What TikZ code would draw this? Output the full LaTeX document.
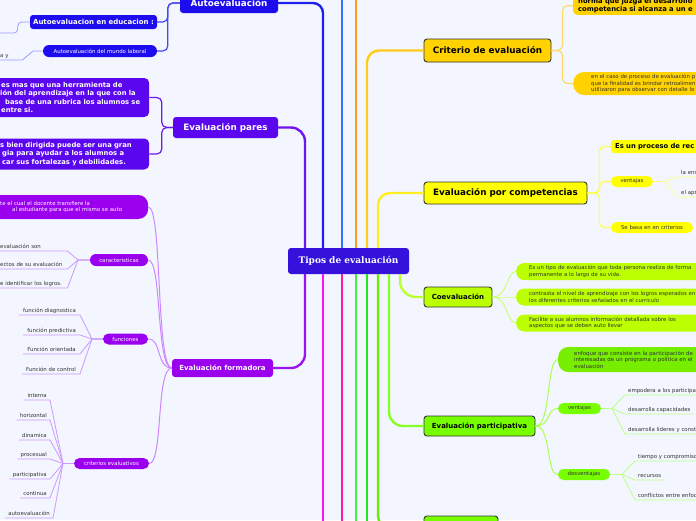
\documentclass[tikz,border=0pt]{standalone}
\usepackage{fontspec}
\setmainfont{DejaVu Sans}
\newfontfamily\mmserif{DejaVu Serif}
\newcommand\mmRoot{\mmserif\bfseries\fontsize{9}{10.5}\selectfont}
\newcommand\mmBig{\bfseries\fontsize{8.8}{10}\selectfont}
\newcommand\mmCrit{\bfseries\fontsize{8.8}{10}\selectfont}
\newcommand\mmMid{\bfseries\fontsize{7}{8.5}\selectfont}
\newcommand\mmPar{\bfseries\fontsize{6.8}{8.5}\selectfont}
\newcommand\mmSmall{\fontsize{5.4}{6.7}\selectfont}
\definecolor{bgc}{HTML}{F3F6FE}
\definecolor{rootc}{HTML}{3412DC}
\definecolor{autoc}{HTML}{1C0CEE}
\definecolor{paresc}{HTML}{5A06EE}
\definecolor{formc}{HTML}{9A00EE}
\definecolor{critc}{HTML}{FFD200}
\definecolor{compc}{HTML}{FFFF00}
\definecolor{coevc}{HTML}{BBFF00}
\definecolor{partc}{HTML}{77FF00}
\definecolor{ptonec}{HTML}{77EE00}
\definecolor{leafc}{HTML}{333333}
\definecolor{la}{HTML}{6E14EE}
\definecolor{lb}{HTML}{1E1EEE}
\definecolor{lc}{HTML}{2F74FF}
\definecolor{ld}{HTML}{FF9A1F}
\definecolor{le}{HTML}{FFCC1A}
\definecolor{lf}{HTML}{FFEE22}
\definecolor{lg}{HTML}{9A14EE}
\definecolor{lh}{HTML}{FF11FF}
\definecolor{li}{HTML}{FF1AA6}
\definecolor{lj}{HTML}{44EE44}
\definecolor{lk}{HTML}{22E622}
\definecolor{ll}{HTML}{66F000}
\definecolor{lm}{HTML}{88FF22}
\definecolor{ln}{HTML}{BBFF33}
\definecolor{autoln}{HTML}{4848F0}
\definecolor{autoleaf}{HTML}{9A9AFF}
\definecolor{paresln}{HTML}{6A1AEE}
\definecolor{formln}{HTML}{CC88FF}
\definecolor{formleaf}{HTML}{CC99FF}
\definecolor{critln}{HTML}{FFD966}
\definecolor{compln}{HTML}{FFFF55}
\definecolor{compleaf}{HTML}{FFFF88}
\definecolor{coevln}{HTML}{CCFF77}
\definecolor{partln}{HTML}{AAFF55}
\definecolor{partleaf}{HTML}{BBFF88}
\begin{document}
\begin{tikzpicture}[x=1pt,y=-1pt,
  cl/.style={line width=2.4pt},
  sl/.style={line width=1.2pt},
  tl/.style={line width=0.8pt},
  boxl/.style={rounded corners=3pt, inner sep=0pt, text=white, align=center},
  boxr/.style={draw=black!80, line width=0.9pt, rounded corners=3pt, inner sep=0pt, text=black, align=center},
  pill/.style={rounded corners=5.5pt, inner sep=0pt, font=\mmSmall},
  leaf/.style={font=\mmSmall, text=leafc, inner xsep=3pt, inner ysep=1pt, text height=4.2pt, text depth=1.2pt},
  rleaf/.style={leaf, text width=100pt, align=left},
  cutbox/.style={inner ysep=1.5pt, text width=200pt, align=left},
]
\fill[bgc] (0,0) rectangle (696,520);
\useasboundingbox (0,0) rectangle (696,520);
\clip (0,0) rectangle (696,520);

% ---------- nodes ----------
\node[boxl, fill=rootc, font=\mmRoot, minimum width=121pt, minimum height=26pt] (root) at (348.5,261) {Tipos de evaluación};

% left: autoevaluacion
\node[boxl, fill=autoc, font=\mmBig, minimum width=98pt, minimum height=20pt] (auto) at (229,3) {Autoevaluación};
\node[boxl, fill=autoc, font=\mmMid, minimum width=127pt, minimum height=14pt] (autoedu) at (93.5,22) {Autoevaluacion en educacion :};
\node[pill, fill=autoc, text=white, minimum width=114pt, minimum height=12pt, rounded corners=6pt] (autolab) at (100,51) {Autoevaluación del mundo laboral};
\node[leaf, anchor=south west, text width=17pt, align=left, inner xsep=5pt] (ay) at (-5,60) {a y\\[4pt]\mbox{}};
\coordinate (ae0) at (-3,33);
\coordinate (ayj) at (33,51);

% left: pares
\node[boxl, fill=paresc, font=\mmBig, minimum width=105pt, minimum height=21pt] (pares) at (225.5,127.5) {Evaluación pares};
\node[boxl, fill=paresc, font=\mmPar, anchor=west, text width=137pt, align=left, inner xsep=12pt, minimum height=39pt, rounded corners=5pt] (paresa) at (-12,97.5)
 {\mbox{\hspace*{1pt}es mas que una herramienta de}\\\mbox{ión del aprendizaje en la que con la}\\\mbox{\hspace*{5pt}base de una rubrica los alumnos se}\\\mbox{\hspace*{1pt}entre si.}};
\node[boxl, fill=paresc, font=\mmPar, anchor=west, text width=137pt, align=left, inner xsep=12pt, minimum height=31pt, rounded corners=5pt] (paresb) at (-12,154)
 {\mbox{s bien dirigida puede ser una gran}\\\mbox{\hspace*{2pt}gia para ayudar a los alumnos a}\\\mbox{\hspace*{2pt}car sus fortalezas y debilidades.}};

% left: formadora
\node[boxl, fill=formc, font=\mmMid, minimum width=101pt, minimum height=18pt] (form) at (222.5,368) {Evaluación formadora};
\node[boxl, fill=formc, font=\mmSmall, anchor=west, text width=136pt, align=left, inner xsep=12pt, minimum height=24pt, rounded corners=10pt] (forma) at (-12,207)
 {\mbox{te el cual el docente transfiere la}\\\mbox{\hspace*{12pt}al estudiante para que el mismo se auto}};
\node[pill, fill=formc, text=white, minimum width=58pt, minimum height=12pt, rounded corners=6pt] (carac) at (119,260) {caracteristicas};
\node[pill, fill=formc, text=white, minimum width=45pt, minimum height=11pt] (func) at (125.5,339) {funciones};
\node[pill, fill=formc, text=white, minimum width=75pt, minimum height=11pt] (crit) at (111.5,463.5) {criterios evaluativos};

\node[leaf, anchor=south west, text width=62pt, align=left, inner xsep=5pt] (ca1) at (-5,251) {\mbox{evaluación son}\\[4pt]\mbox{}};
\node[leaf, anchor=south west, text width=62pt, align=left, inner xsep=5pt] (ca2) at (-5,269) {\mbox{ectos de su evaluación}};
\node[leaf, anchor=south west, text width=62pt, align=left, inner xsep=5pt] (ca3) at (-5,288) {\mbox{e identificar los logros.}};
\coordinate (cconv) at (78,260);

\node[leaf, anchor=south east, inner xsep=4pt] (fu1) at (80,315) {función diagnostica};
\node[leaf, anchor=south east, inner xsep=4pt] (fu2) at (80,335) {función predictiva};
\node[leaf, anchor=south east, inner xsep=4pt] (fu3) at (80,354) {Función orientada};
\node[leaf, anchor=south east, inner xsep=4pt] (fu4) at (80,374) {Función de control};
\coordinate (fconv) at (92,339);

\node[leaf, anchor=south east] (cr1) at (50,400) {interna};
\node[leaf, anchor=south east] (cr2) at (50,420) {horizontal};
\node[leaf, anchor=south east] (cr3) at (50,440) {dinamica};
\node[leaf, anchor=south east] (cr4) at (50,459) {procesual};
\node[leaf, anchor=south east] (cr5) at (50,479) {participativa};
\node[leaf, anchor=south east] (cr6) at (50,498) {continua};
\node[leaf, anchor=south east] (cr7) at (53,518) {autoevaluación};
\coordinate (kconv) at (63,463.5);

% right: criterio
\node[boxr, fill=critc, font=\mmCrit, minimum width=127pt, minimum height=23pt] (crite) at (487.5,50.5) {Criterio de evaluación};
\node[cutbox, fill=critc, font=\mmPar, anchor=south west, inner xsep=5pt, rounded corners=4pt] (golda) at (573,15)
 {norma que juzga el desarrollo\\competencia si alcanza a un e};
\node[cutbox, fill=critc, font=\mmSmall, text=leafc, anchor=west, inner xsep=18pt, minimum height=23pt, rounded corners=11pt] (goldb) at (573,83.5)
 {\baselineskip=6.5pt en el caso de proceso de evaluación p\\que la finalidad es brindar retroalimen\\utilizaron para observar con detalle lo};

% right: competencias
\node[boxr, fill=compc, font=\mmBig, minimum width=163pt, minimum height=22pt] (comp) at (505.5,193) {Evaluación por competencias};
\node[fill=compc, font=\mmPar, anchor=west, text width=100pt, align=left, inner xsep=4pt, inner ysep=0pt, minimum height=13pt, rounded corners=3pt] (cpa) at (611,146.5) {Es un proceso de rec};
\node[pill, fill=compc, text=leafc, minimum width=42pt, minimum height=11pt] (cpv) at (632,181.5) {ventajas};
\node[pill, fill=compc, text=leafc, minimum width=82pt, minimum height=11pt] (cps) at (652,227.5) {Se basa en en criterios};
\coordinate (vconv) at (665,181.5);
\node[rleaf, anchor=south west, inner xsep=4pt] (cv1) at (677,177) {la ens};
\node[rleaf, anchor=south west, inner xsep=4pt] (cv2) at (677,197) {el apr};

% right: coevaluacion
\node[boxr, fill=coevc, font=\mmMid, minimum width=68pt, minimum height=20pt] (coev) at (458,297) {Coevaluación};
\node[cutbox, fill=coevc, font=\mmSmall, text=leafc, anchor=west, inner xsep=13pt, minimum height=17pt, rounded corners=8pt] (cba) at (516,271.5)
 {Es un tipo de evaluación que toda persona realiza de forma\\permanente a lo largo de su vida.};
\node[cutbox, fill=coevc, font=\mmSmall, text=leafc, anchor=west, inner xsep=13pt, minimum height=17pt, rounded corners=8pt] (cbb) at (516,297)
 {contrasta el nivel de aprendizaje con los logros esperados en\\los diferentes criterios señalados en el curriculo};
\node[cutbox, fill=coevc, font=\mmSmall, text=leafc, anchor=west, inner xsep=13pt, minimum height=17pt, rounded corners=8pt] (cbc) at (516,323)
 {Facilite a sus alumnos información detallada sobre los\\aspectos que se deben auto llevar};

% right: participativa
\node[boxr, fill=partc, font=\mmMid, minimum width=111pt, minimum height=20pt] (part) at (479.5,426) {Evaluación participativa};
\node[cutbox, fill=ptonec, font=\mmSmall, text=leafc, anchor=west, inner xsep=16pt, minimum height=25pt, rounded corners=10pt] (pta) at (558,359.5)
 {\baselineskip=6.5pt enfoque que consiste en la participación de\\interesadas de un programa o política en el\\evaluación};
\node[pill, fill=partc, text=leafc, minimum width=43pt, minimum height=11pt] (ptv) at (579.5,408.5) {ventajas};
\node[pill, fill=partc, text=leafc, minimum width=52pt, minimum height=11pt] (ptd) at (584,474.5) {desventajas};
\coordinate (pvconv) at (612,408.5);
\coordinate (pdconv) at (622,474.5);
\node[rleaf, anchor=south west] (pv1) at (625,395) {empodera a los participa};
\node[leaf, anchor=south west] (pv2) at (625,414) {desarrolla capacidades};
\node[rleaf, anchor=south west] (pv3) at (625,434) {desarrolla lideres y const};
\node[rleaf, anchor=south west] (pd1) at (635,461) {tiempo y compromiso};
\node[leaf, anchor=south west] (pd2) at (635,480) {recursos};
\node[rleaf, anchor=south west] (pd3) at (635,500) {conflictos entre enfoq};

% bottom
\node[boxr, fill=partc, minimum width=74pt, minimum height=24pt] (bott) at (461,528) {};

% ---------- central connectors ----------
\foreach \xx in {305,323,342,356,367,378,389,400} {\coordinate (k\xx) at (\xx,0);}
\coordinate (top342) at (342,-6);
\coordinate (top356) at (356,-6);
\coordinate (bot323) at (323,526);
\coordinate (bot342) at (342,526);
\coordinate (bot356) at (356,526);
\coordinate (bot367) at (367,526);

\draw[cl, la, rounded corners=14pt] (k305 |- root.north) |- (pares.east);
\draw[cl, lb, rounded corners=10pt] (k323 |- root.north) |- (auto.east);
\draw[cl, lc] (k342 |- root.north) -- (top342);
\draw[cl, ld] (k356 |- root.north) -- (top356);
\draw[cl, le, rounded corners=12pt] (k367 |- root.north) |- (crite.west);
\draw[cl, lf, rounded corners=12pt] (k378 |- root.north) |- (comp.west);
\draw[cl, lg, rounded corners=14pt] (k305 |- root.south) |- (form.east);
\draw[cl, lh] (k323 |- root.south) -- (bot323);
\draw[cl, li] (k342 |- root.south) -- (bot342);
\draw[cl, lj] (k356 |- root.south) -- (bot356);
\draw[cl, lk] (k367 |- root.south) -- (bot367);
\draw[cl, ll, rounded corners=12pt] (k378 |- root.south) |- (bott.west);
\draw[cl, lm, rounded corners=14pt] (k389 |- root.south) |- (part.west);
\draw[cl, ln, rounded corners=16pt] (k400 |- root.south) |- (coev.west);

% ---------- secondary connectors ----------
\draw[sl, autoln, rounded corners=5pt] (auto.west) -- ++(-12,0) |- (autoedu.east);
\draw[sl, autoln, rounded corners=5pt] (auto.west) -- ++(-12,0) |- (autolab.east);
\draw[tl, autoleaf, rounded corners=4pt] (autoedu.west) -- ++(-12,0) |- (ae0);
\draw[tl, autoleaf] (ay.south west) -- (ay.south east) -- (ayj) -- (autolab.west);

\draw[sl, paresln, rounded corners=5pt] (pares.west) -- ++(-11,0) |- (paresa.east);
\draw[sl, paresln, rounded corners=5pt] (pares.west) -- ++(-11,0) |- (paresb.east);

\foreach \n in {forma,carac,func,crit}
  \draw[line width=1pt, formln] (form.west) .. controls +(-16,0) and +(14,0) .. (\n.east);
\foreach \n in {ca1,ca2,ca3}
  \draw[tl, formleaf] (\n.south west) -- (\n.south east) -- (cconv) -- (carac.west);
\foreach \n in {fu1,fu2,fu3,fu4}
  \draw[tl, formleaf] (\n.south west) -- (\n.south east) -- (fconv) -- (func.west);
\foreach \n in {cr1,cr2,cr3,cr4,cr5,cr6,cr7}
  \draw[tl, formleaf] (\n.south west) -- (\n.south east) -- (kconv) -- (crit.west);

\draw[sl, critln, rounded corners=5pt] (crite.east) -- ++(11,0) |- (golda.west);
\draw[sl, critln, rounded corners=5pt] (crite.east) -- ++(11,0) |- (goldb.west);

\foreach \n in {cpa,cpv,cps}
  \draw[sl, compln, rounded corners=5pt] (comp.east) -- ++(12,0) |- (\n.west);
\foreach \n in {cv1,cv2}
  \draw[tl, compleaf] (cpv.east) -- (vconv) -- (\n.south west) -- (\n.south east);

\foreach \n in {cba,cbb,cbc}
  \draw[line width=1pt, coevln] (coev.east) .. controls +(16,0) and +(-10,0) .. (\n.west);

\foreach \n in {pta,ptv,ptd}
  \draw[line width=1pt, partln] (part.east) .. controls +(16,0) and +(-12,0) .. (\n.west);
\foreach \n in {pv1,pv2,pv3}
  \draw[tl, partleaf] (ptv.east) -- (pvconv) -- (\n.south west) -- (\n.south east);
\foreach \n in {pd1,pd2,pd3}
  \draw[tl, partleaf] (ptd.east) -- (pdconv) -- (\n.south west) -- (\n.south east);
\end{tikzpicture}
\end{document}
